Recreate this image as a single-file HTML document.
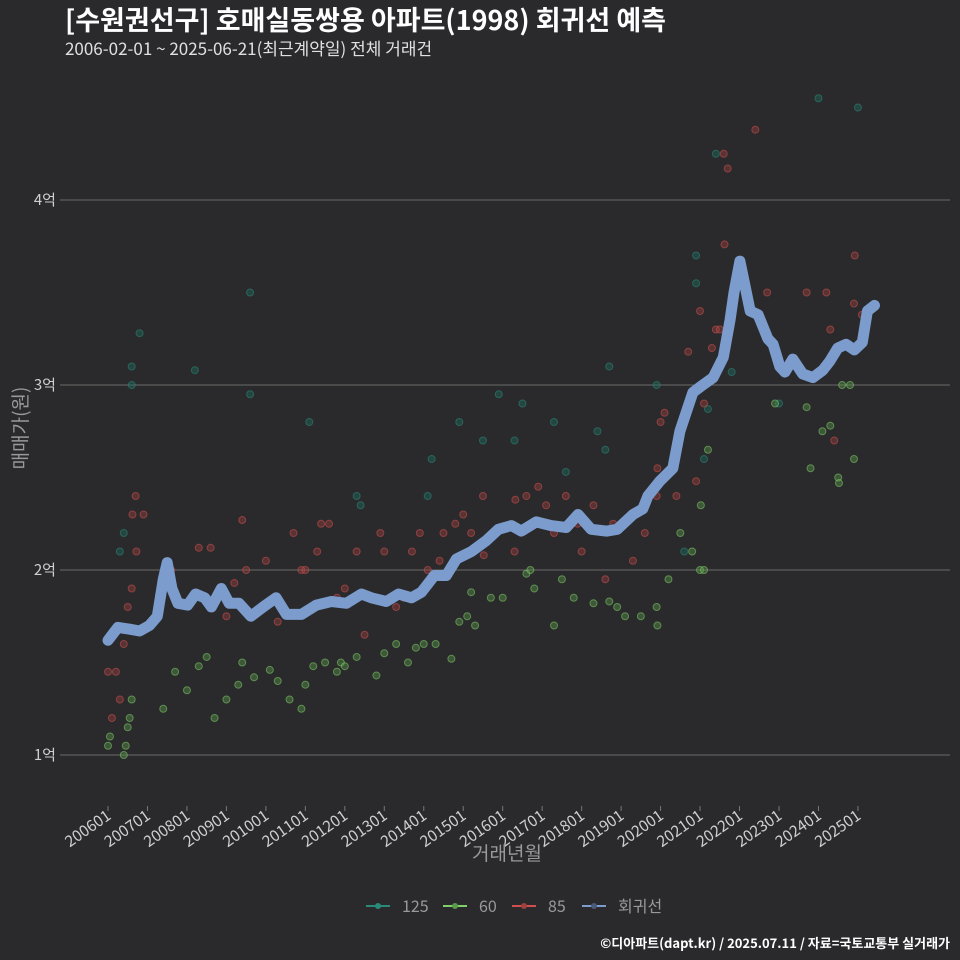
<!DOCTYPE html>
<html><head><meta charset="utf-8">
<style>
html,body{margin:0;padding:0;background:#2a2a2c;}
svg{display:block;font-family:"Noto Sans CJK KR","Liberation Sans",sans-serif;}
</style></head>
<body>
<svg id="chart" width="960" height="960" viewBox="0 0 960 960">
<rect x="0" y="0" width="960" height="960" fill="#2a2a2c"/>
<text x="65" y="30" fill="#ffffff" font-size="27" font-weight="bold">[수원권선구] 호매실동쌍용 아파트(1998) 회귀선 예측</text>
<text x="65" y="55" fill="#e0e0e0" font-size="17">2006-02-01 ~ 2025-06-21(최근계약일) 전체 거래건</text>
<g id="grid"></g>
<g id="xaxis"></g>
<g id="points"></g>
<g id="line"></g>
<text x="22" y="428" fill="#999" font-size="19" transform="rotate(-90 22 428)" text-anchor="middle" dominant-baseline="middle">매매가(원)</text>
<text x="507" y="860" fill="#999" font-size="19" text-anchor="middle">거래년월</text>
<g>
<g><line x1="366" y1="906" x2="390" y2="906" stroke="#2a8a7a" stroke-width="2"/><circle cx="378" cy="906" r="3" fill="#2a8a7a"/><text x="402" y="912" fill="#999" font-size="16">125</text></g>
<g><line x1="443" y1="906" x2="467" y2="906" stroke="#7fd06a" stroke-width="2"/><circle cx="455" cy="906" r="3" fill="#5a9a4a"/><text x="479" y="912" fill="#999" font-size="16">60</text></g>
<g><line x1="512" y1="906" x2="536" y2="906" stroke="#d0504f" stroke-width="2"/><circle cx="524" cy="906" r="3" fill="#a04040"/><text x="548" y="912" fill="#999" font-size="16">85</text></g>
<g><line x1="582" y1="906" x2="606" y2="906" stroke="#7b9ccc" stroke-width="2"/><circle cx="594" cy="906" r="3" fill="#4a5a78"/><text x="618" y="912" fill="#999" font-size="16">회귀선</text></g>
</g>
<text x="950" y="948" fill="#ffffff" font-size="13" font-weight="bold" text-anchor="end">©디아파트(dapt.kr) / 2025.07.11 / 자료=국토교통부 실거래가</text>
</svg>
<script>
const yTicks=[1,2,3,4];
const yTickLabels=["1억","2억","3억","4억"];
const xTickYears=[2006,2007,2008,2009,2010,2011,2012,2013,2014,2015,2016,2017,2018,2019,2020,2021,2022,2023,2024,2025];
const xTickLabels=["200601","200701","200801","200901","201001","201101","201201","201301","201401","201501","201601","201701","201801","201901","202001","202101","202201","202301","202401","202501"];
const regYears=[2006.0,2006.25,2006.55,2006.8,2007.05,2007.25,2007.4,2007.5,2007.62,2007.77,2008.02,2008.22,2008.45,2008.62,2008.87,2009.07,2009.32,2009.62,2009.93,2010.26,2010.52,2010.9,2011.28,2011.66,2012.04,2012.42,2012.67,2013.05,2013.36,2013.69,2013.94,2014.27,2014.57,2014.83,2015.21,2015.59,2015.89,2016.22,2016.47,2016.85,2017.23,2017.61,2017.91,2018.24,2018.64,2018.9,2019.3,2019.55,2019.68,2019.98,2020.31,2020.49,2020.82,2021.07,2021.33,2021.59,2021.76,2021.86,2022.01,2022.27,2022.47,2022.72,2022.85,2023.02,2023.15,2023.35,2023.6,2023.86,2024.11,2024.29,2024.49,2024.7,2024.91,2025.11,2025.24,2025.42];
const regValues=[1.62,1.69,1.68,1.67,1.70,1.75,1.95,2.04,1.90,1.82,1.81,1.87,1.85,1.80,1.90,1.82,1.82,1.75,1.80,1.85,1.76,1.76,1.81,1.83,1.82,1.87,1.85,1.83,1.87,1.85,1.88,1.97,1.97,2.06,2.10,2.16,2.22,2.24,2.21,2.26,2.24,2.23,2.30,2.22,2.21,2.22,2.30,2.33,2.40,2.48,2.55,2.75,2.96,3.00,3.04,3.15,3.35,3.50,3.67,3.40,3.38,3.25,3.22,3.10,3.07,3.14,3.06,3.04,3.08,3.13,3.20,3.22,3.19,3.23,3.40,3.43];
const s125Years=[2006.3,2006.6,2006.6,2006.8,2006.4,2008.2,2009.6,2009.6,2011.1,2012.3,2012.4,2014.1,2014.2,2014.9,2015.5,2015.9,2016.3,2016.5,2017.3,2017.6,2018.4,2018.7,2018.6,2019.9,2020.9,2020.6,2021.4,2023.0,2024.0,2025.0,2020.9,2021.1,2021.2,2021.8];
const s125Values=[2.1,3.1,3.0,3.28,2.2,3.08,3.5,2.95,2.8,2.4,2.35,2.4,2.6,2.8,2.7,2.95,2.7,2.9,2.8,2.53,2.75,3.1,2.65,3.0,3.7,2.1,4.25,2.9,4.55,4.5,3.55,2.6,2.87,3.07];
const s60Years=[2006.0,2006.05,2006.4,2006.45,2006.55,2006.5,2006.6,2007.4,2007.7,2008.0,2008.3,2008.5,2008.7,2009.0,2009.3,2009.4,2009.7,2010.1,2010.3,2010.6,2010.9,2011.0,2011.2,2011.5,2011.8,2011.9,2012.0,2012.3,2012.8,2013.0,2013.3,2013.6,2013.8,2014.0,2014.3,2014.7,2014.9,2015.1,2015.2,2015.3,2015.7,2016.0,2016.6,2016.7,2016.8,2017.3,2017.5,2017.8,2018.3,2018.7,2018.9,2019.1,2019.5,2019.9,2019.92,2020.2,2020.5,2020.8,2021.0,2021.1,2021.02,2021.2,2022.2,2022.9,2023.7,2023.8,2024.1,2024.3,2024.5,2024.52,2024.8,2024.9,2024.6];
const s60Values=[1.05,1.1,1.0,1.05,1.2,1.15,1.3,1.25,1.45,1.35,1.48,1.53,1.2,1.3,1.38,1.5,1.42,1.46,1.4,1.3,1.25,1.38,1.48,1.5,1.45,1.5,1.48,1.53,1.43,1.55,1.6,1.5,1.58,1.6,1.6,1.52,1.72,1.75,1.88,1.7,1.85,1.85,1.98,2.0,1.9,1.7,1.95,1.85,1.82,1.83,1.8,1.75,1.75,1.8,1.7,1.95,2.2,2.1,2.0,2.0,2.35,2.65,3.5,2.9,2.88,2.55,2.75,2.78,2.5,2.47,3.0,2.6,3.0];
const s85Years=[2006.0,2006.1,2006.2,2006.3,2006.4,2006.5,2006.6,2006.62,2006.7,2006.72,2006.9,2007.6,2008.3,2008.6,2009.0,2009.2,2009.5,2009.4,2010.0,2010.3,2010.7,2010.9,2011.0,2011.3,2011.4,2011.6,2011.8,2012.0,2012.3,2012.5,2012.9,2013.0,2013.3,2013.5,2013.7,2013.9,2014.1,2014.4,2014.5,2014.8,2015.0,2015.2,2015.5,2015.52,2016.3,2016.32,2016.6,2016.9,2017.1,2017.3,2017.6,2017.9,2018.0,2018.3,2018.6,2018.8,2019.3,2019.6,2019.9,2019.92,2020.0,2020.1,2020.4,2020.7,2020.9,2021.1,2021.3,2021.4,2021.6,2021.7,2021.62,2021.5,2022.4,2022.7,2023.7,2024.2,2024.3,2024.4,2024.9,2024.92,2025.1,2021.0];
const s85Values=[1.45,1.2,1.45,1.3,1.6,1.8,1.9,2.3,2.4,2.1,2.3,2.0,2.12,2.12,1.75,1.93,2.0,2.27,2.05,1.72,2.2,2.0,2.0,2.1,2.25,2.25,1.85,1.9,2.1,1.65,2.2,2.1,1.8,1.85,2.1,2.2,2.0,2.05,2.2,2.25,2.3,2.2,2.4,2.08,2.1,2.38,2.4,2.45,2.35,2.2,2.4,2.25,2.1,2.35,1.95,2.25,2.05,2.2,2.4,2.55,2.8,2.85,2.4,3.18,2.48,2.9,3.2,3.3,4.25,4.17,3.76,3.3,4.38,3.5,3.5,3.5,3.3,2.7,3.44,3.7,3.38,3.4];

const NS="http://www.w3.org/2000/svg";
const X0=60,X1=950;
function xs(yr){return 108+(yr-2006)*39.47;}
function ys(v){return 755-(v-1)*185;}
function mk(tag,attrs,parent){const e=document.createElementNS(NS,tag);for(const k in attrs)e.setAttribute(k,attrs[k]);parent.appendChild(e);return e;}
const grid=document.getElementById('grid');
yTicks.forEach((t,i)=>{
  const l=mk('line',{x1:X0,x2:X1,y1:ys(t),y2:ys(t),stroke:'#6a6a6a','stroke-width':1},grid);
  
  
  const tx=mk('text',{x:56,y:ys(t)+5,fill:'#cfcfcf','font-size':15,'text-anchor':'end'},grid);
  tx.textContent=yTickLabels[i];
  
  
});
const xa=document.getElementById('xaxis');
xTickYears.forEach((yr,i)=>{
  const x=xs(yr);
  const tk=mk('line',{x1:x,x2:x,y1:806,y2:811,stroke:'#777','stroke-width':1},xa);
  
  
  const tx=mk('text',{x:x+4,y:818,fill:'#cfcfcf','font-size':15.5,'text-anchor':'end',transform:'rotate(-35 '+(x+4)+' 818)'},xa);
  tx.textContent=xTickLabels[i];
  
  
});
const pts=document.getElementById('points');
function drawSeries(years,vals,fill,stroke,name){
  years.forEach((yr,i)=>{
    const c=mk('circle',{cx:xs(yr),cy:ys(vals[i]),r:3.5,fill:fill,'fill-opacity':0.4,stroke:stroke,'stroke-opacity':0.55,'stroke-width':1},pts);
    
    
  });
}
drawSeries(s125Years,s125Values,'#1f6f62','#2a8a7a','point-125');
drawSeries(s60Years,s60Values,'#5a9a4a','#7fd06a','point-60');
drawSeries(s85Years,s85Values,'#a04040','#d0504f','point-85');
const lg=document.getElementById('line');
const d=regYears.map((yr,i)=>(i?'L':'M')+xs(yr).toFixed(1)+' '+ys(regValues[i]).toFixed(1)).join(' ');
const p=mk('path',{d:d,fill:'none',stroke:'#7b9ccc','stroke-width':11,'stroke-linejoin':'round','stroke-linecap':'round'},lg);


</script>
</body></html>
